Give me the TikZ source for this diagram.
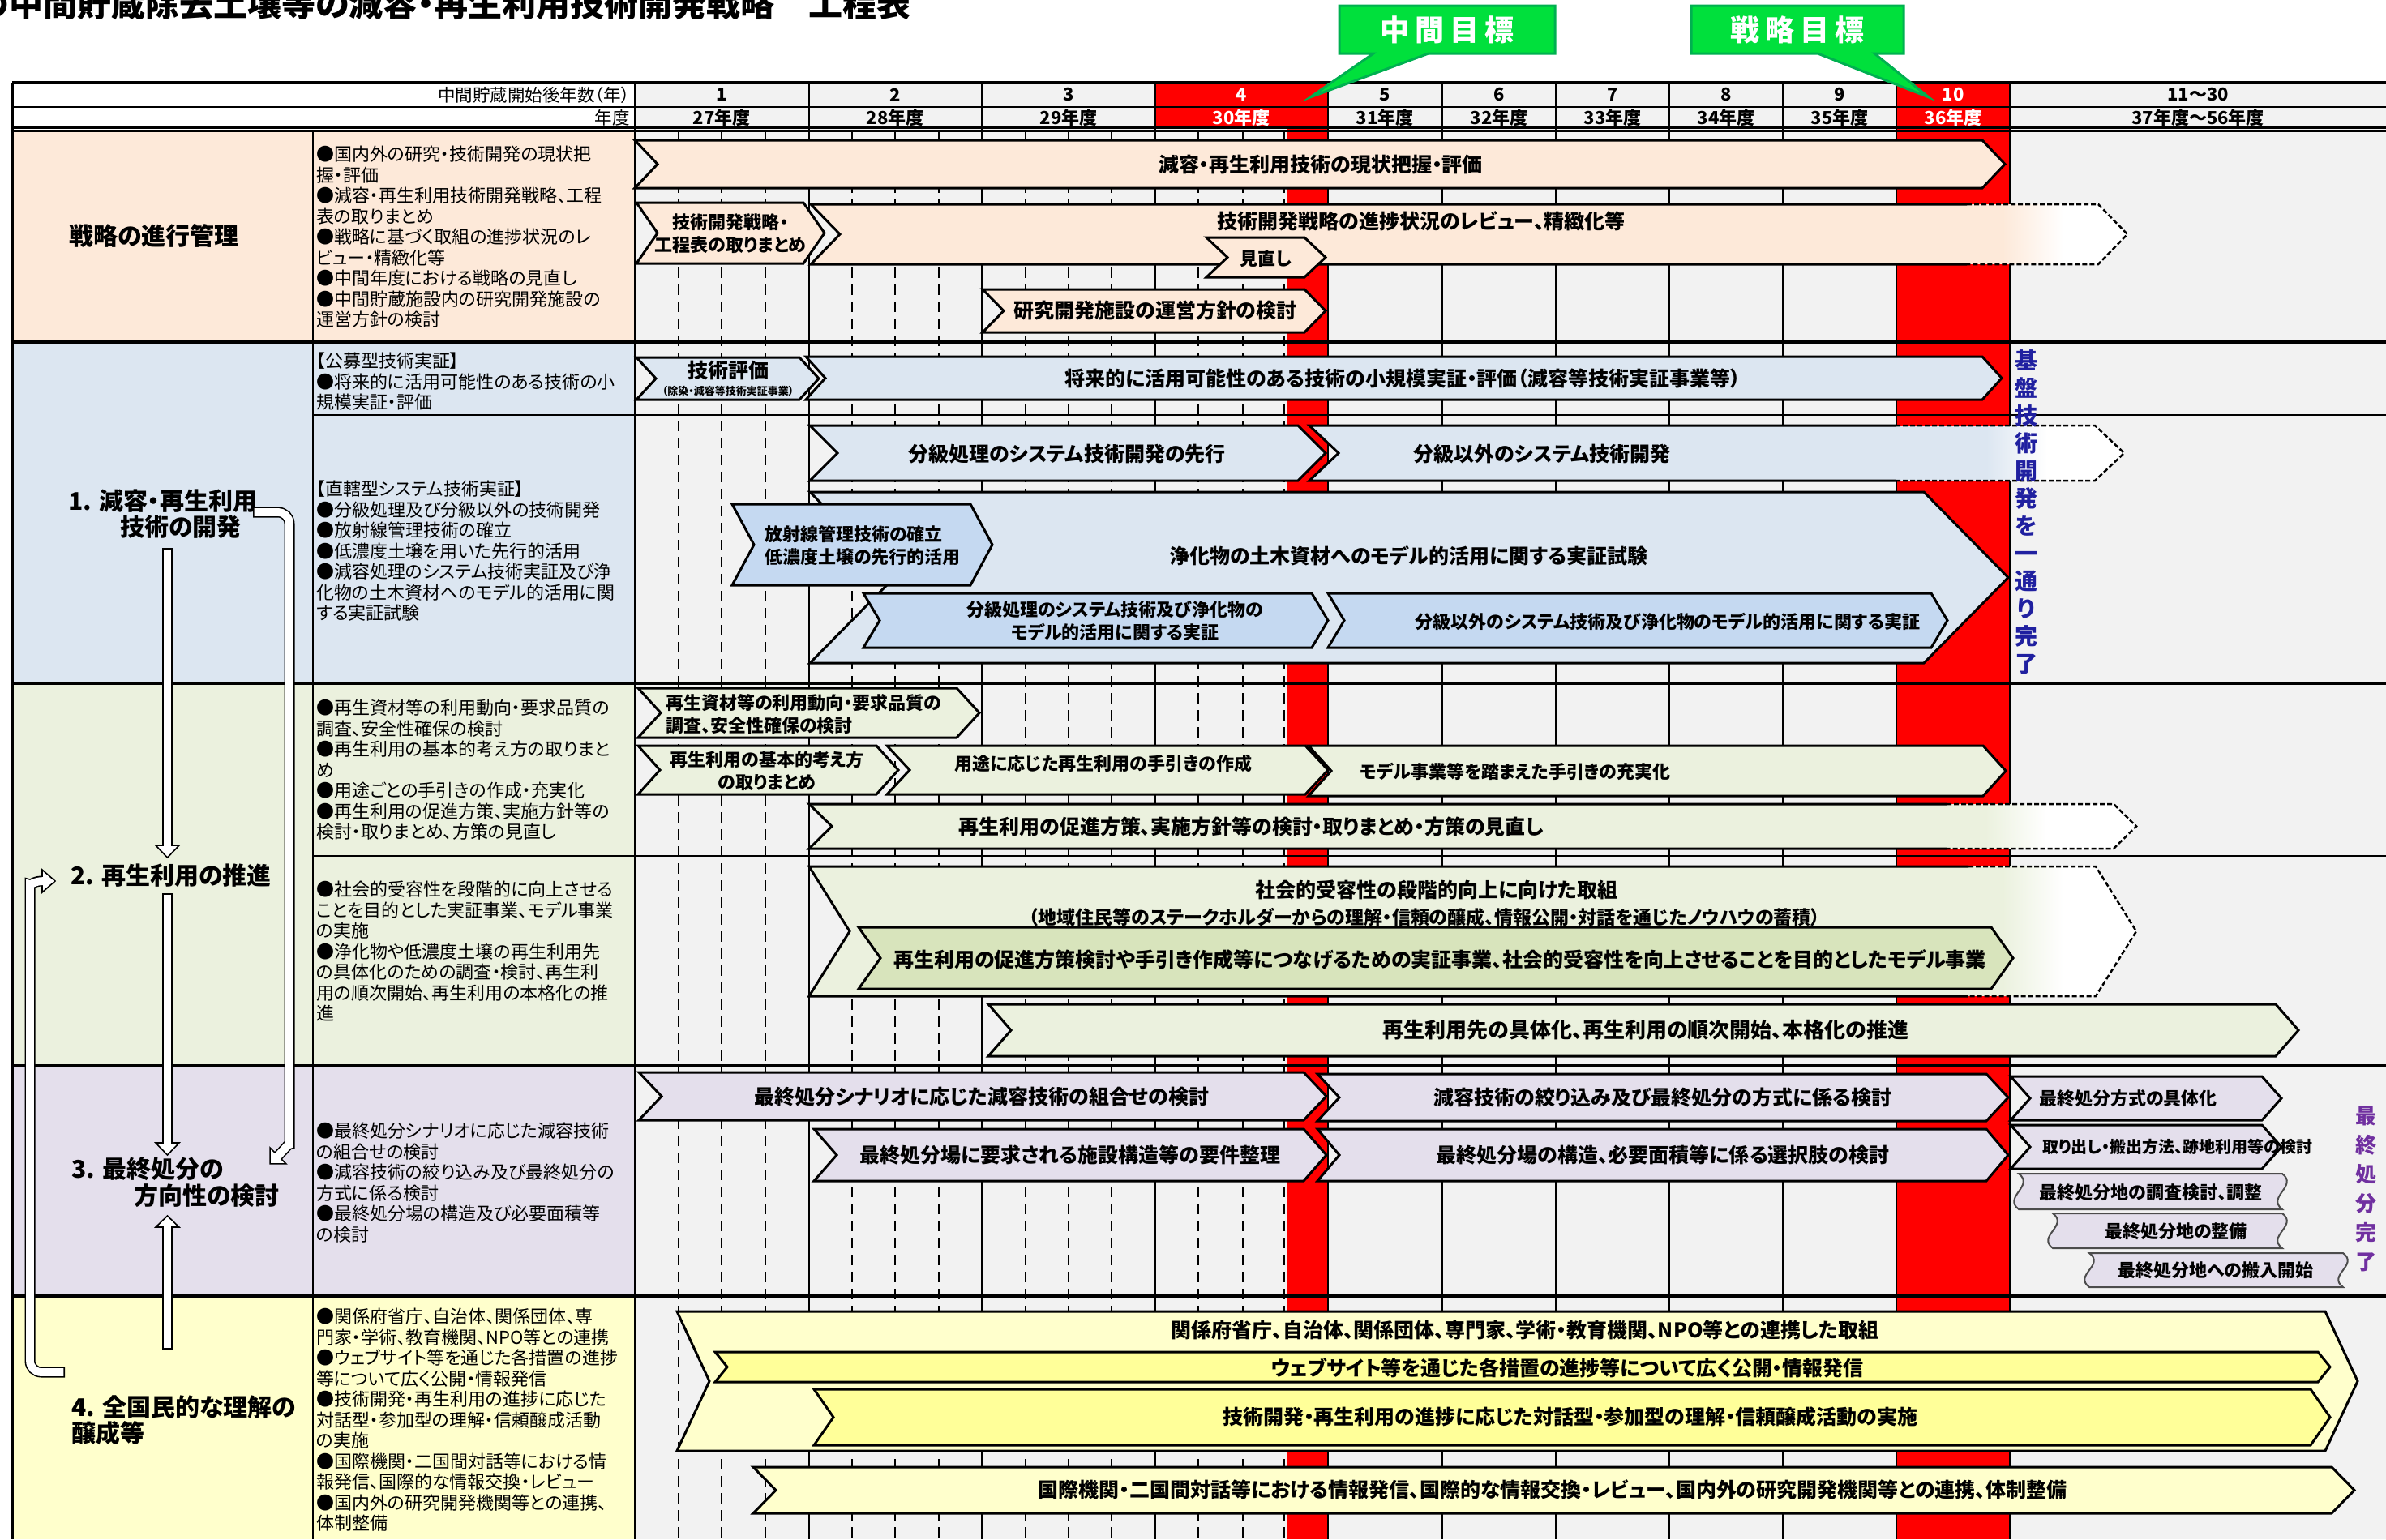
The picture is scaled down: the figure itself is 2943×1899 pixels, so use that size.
\documentclass[tikz,border=0pt]{standalone}
\usepackage{fontspec}
\setmainfont{Noto Sans CJK JP}[RawFeature=+palt]
\usetikzlibrary{positioning}
\definecolor{peach}{HTML}{FDE9D9}
\definecolor{paleblue}{HTML}{DCE6F1}
\definecolor{midblue}{HTML}{C5D9F1}
\definecolor{palegreen}{HTML}{EBF1DE}
\definecolor{midgreen}{HTML}{D8E4BC}
\definecolor{lavender}{HTML}{E4DFEC}
\definecolor{paleyellow}{HTML}{FFFFCC}
\definecolor{midyellow}{HTML}{FFFF99}
\definecolor{gridgray}{HTML}{F2F2F2}
\definecolor{goalgreen}{HTML}{00E03C}
\definecolor{goaledge}{HTML}{00B050}
\definecolor{navytext}{HTML}{2020A0}
\definecolor{purpletext}{HTML}{7030A0}
\tikzset{
  hdr/.style={font=\fontsize{21.5}{24}\selectfont, inner sep=0pt},
  yearno/.style={font=\bfseries\fontsize{22}{24}\selectfont, inner sep=0pt},
  lab/.style={font=\bfseries\fontsize{30}{34}\selectfont, inner sep=0pt},
  desc/.style={font=\fontsize{22}{25.5}\selectfont, align=left, anchor=north west, inner sep=0pt},
  bartext/.style={font=\bfseries\fontsize{25}{30}\selectfont, inner sep=0pt, align=center},
  barsmall/.style={font=\bfseries\fontsize{22}{28}\selectfont, inner sep=0pt, align=center},
  barmid/.style={font=\bfseries\fontsize{23}{28}\selectfont, inner sep=0pt},
  bartiny/.style={font=\bfseries\fontsize{20}{24}\selectfont, inner sep=0pt},
  chevbar/.style={draw=black, line width=3pt, line join=miter},
  fadeedge/.style={line width=2.5pt, dash pattern=on 6pt off 3pt},
  wave/.style={draw=black!70, line width=2pt, fill=lavender},
  rowrule/.style={line width=4.5pt},
  subrule/.style={line width=2pt},
  gridline/.style={line width=1.2pt},
  quarter/.style={line width=1.2pt, dash pattern=on 13pt off 8pt},
  flowout/.style={line width=13pt, black},
  flowin/.style={line width=9.8pt, white, shorten <=1.6pt, shorten >=-2pt},
  flowhead/.style={draw=black, fill=white, line width=1.6pt, line join=miter},
  goal/.style={fill=goalgreen, draw=goaledge, line width=3pt, line join=miter},
  goaltext/.style={font=\bfseries\fontsize{36}{40}\selectfont, text=white, inner sep=0pt},
  vtext/.style={font=\bfseries\fontsize{28}{34}\selectfont, align=center, inner sep=0pt},
}
% chevron bar: x1, x2, y1, y2, point depth, fill
\newcommand{\chev}[6]{%
  \draw[chevbar, fill=#6] (#1,#3) -- ({#2-#5},#3) -- (#2,{(#3+#4)/2}) -- ({#2-#5},#4) -- (#1,#4) -- ({#1+#5},{(#3+#4)/2}) -- cycle;}
% chevron bar fading out: x1, solid end, x2, y1, y2, depth, fill, fade start
\newcommand{\fadechev}[8]{%
  \begin{scope}
    \clip (#1,#4) -- ({#3-#6},#4) -- (#3,{(#4+#5)/2}) -- ({#3-#6},#5) -- (#1,#5) -- ({#1+#6},{(#4+#5)/2}) -- cycle;
    \fill[#7] (#1,#4) rectangle (#8,#5);
    \shade[left color=#7, right color=white] (#8,#4) rectangle ({#8+75},#5);
    \fill[white] ({#8+75},#4) rectangle (#3,#5);
  \end{scope}
  \draw[chevbar] (#2,#4) -- (#1,#4) -- ({#1+#6},{(#4+#5)/2}) -- (#1,#5) -- (#2,#5);
  \draw[fadeedge] (#2,#4) -- ({#3-#6},#4) -- (#3,{(#4+#5)/2}) -- ({#3-#6},#5) -- (#2,#5);}
% wavy box: left, right, top, bottom
\newcommand{\wavebox}[4]{%
  \draw[wave] (#1,#3) -- (#2,#3) .. controls ({#2+20},{#3+0.35*(#4-#3)}) and ({#2-20},{#3+0.65*(#4-#3)}) .. (#2,#4) -- (#1,#4) .. controls ({#1-20},{#3+0.65*(#4-#3)}) and ({#1+20},{#3+0.35*(#4-#3)}) .. (#1,#3) -- cycle;}

\begin{document}
\begin{tikzpicture}[x=1pt,y=-1pt]
\clip (0,0) rectangle (2943,1899);

% backgrounds
\fill[gridgray] (783,102) rectangle (2943,1899);
\fill[white] (15,102) rectangle (783,158);
\fill[peach] (15,162) rectangle (783,422);
\fill[paleblue] (15,422) rectangle (783,843);
\fill[palegreen] (15,843) rectangle (783,1315);
\fill[lavender] (15,1315) rectangle (783,1599);
\fill[paleyellow] (15,1599) rectangle (783,1899);

% quarters of the first years
\foreach \x in {837,890,944,1051,1104,1158,1265,1318,1371,1478,1533,1584}
  \draw[quarter] (\x,162) -- (\x,1899);

% red years
\fill[red] (1425,102) rectangle (1638,158);
\fill[red] (2339,102) rectangle (2479,158);
\fill[red] (1587,158) rectangle (1638,1899);
\fill[red] (2339,158) rectangle (2479,1899);

\foreach \x in {998,1211,1425,1638,1779,1919,2059,2199,2339,2479}
  \draw[gridline] (\x,102) -- (\x,1899);

% rules
\draw[rowrule] (15,102) -- (2943,102);
\draw[line width=2.5pt] (15,132) -- (2943,132);
\draw[line width=3pt] (15,157) -- (2943,157);
\draw[line width=2pt] (15,162) -- (2943,162);
\foreach \y in {422,843,1315,1599}
  \draw[rowrule] (15,\y) -- (2943,\y);
\draw[subrule] (386,512) -- (2943,512);
\draw[subrule] (386,1056) -- (2943,1056);
\draw[line width=3pt] (15,102) -- (15,1899);
\draw[line width=1.5pt] (386,162) -- (386,1899);
\draw[line width=2pt] (783,102) -- (783,1899);

% title
\node[font=\bfseries\fontsize{42}{48}\selectfont, anchor=base east, inner sep=0pt] (title) at (1124,20) {の中間貯蔵除去土壌等の減容・再生利用技術開発戦略　工程表};

% header
\node[hdr, anchor=east] (hnensu) at (777,117) {中間貯蔵開始後年数（年）};
\node[hdr, anchor=east] (hnendo) at (777,145) {年度};
\foreach \yx/\yn/\yf/\yc [count=\i] in {890/1/27/black, 1104/2/28/black, 1318/3/29/black, 1531/4/30/white, 1708/5/31/black, 1849/6/32/black, 1989/7/33/black, 2129/8/34/black, 2269/9/35/black, 2409/10/36/white} {
  \node[yearno, text=\yc] (yr\i) at (\yx,117) {\yn};
  \node[yearno, text=\yc] (fy\i) at (\yx,145) {\yf 年度};
}
\node[yearno] (yr11) at (2711,117) {11～30};
\node[yearno] (fy11) at (2711,145) {37年度～56年度};

% row labels
\node[lab] (labmgmt) at (190,291) {戦略の進行管理};
\node[lab, anchor=west] (lab1a) at (84,618) {1. 減容・再生利用};
\node[lab, anchor=west] (lab1b) at (148,650) {技術の開発};
\node[lab, anchor=west] (lab2) at (87,1080) {2. 再生利用の推進};
\node[lab, anchor=west] (lab3a) at (88,1442) {3. 最終処分の};
\node[lab, anchor=west] (lab3b) at (165,1475) {方向性の検討};
\node[lab, anchor=west] (lab4a) at (88,1736) {4. 全国民的な理解の};
\node[lab, anchor=west] (lab4b) at (88,1768) {醸成等};

% descriptions
\node[desc] (descmgmt) at (390,180) {●国内外の研究・技術開発の現状把\\握・評価\\●減容・再生利用技術開発戦略、工程\\表の取りまとめ\\●戦略に基づく取組の進捗状況のレ\\ビュー・精緻化等\\●中間年度における戦略の見直し\\●中間貯蔵施設内の研究開発施設の\\運営方針の検討};
\node[desc] (desckobo) at (390,435) {【公募型技術実証】\\●将来的に活用可能性のある技術の小\\規模実証・評価};
\node[desc] (descchokkatsu) at (390,593) {【直轄型システム技術実証】\\●分級処理及び分級以外の技術開発\\●放射線管理技術の確立\\●低濃度土壌を用いた先行的活用\\●減容処理のシステム技術実証及び浄\\化物の土木資材へのモデル的活用に関\\する実証試験};
\node[desc] (descsaisei) at (390,863) {●再生資材等の利用動向・要求品質の\\調査、安全性確保の検討\\●再生利用の基本的考え方の取りまと\\め\\●用途ごとの手引きの作成・充実化\\●再生利用の促進方策、実施方針等の\\検討・取りまとめ、方策の見直し};
\node[desc] (descjuyo) at (390,1087) {●社会的受容性を段階的に向上させる\\ことを目的とした実証事業、モデル事業\\の実施\\●浄化物や低濃度土壌の再生利用先\\の具体化のための調査・検討、再生利\\用の順次開始、再生利用の本格化の推\\進};
\node[desc] (descshobun) at (390,1385) {●最終処分シナリオに応じた減容技術\\の組合せの検討\\●減容技術の絞り込み及び最終処分の\\方式に係る検討\\●最終処分場の構造及び必要面積等\\の検討};
\node[desc] (descrikai) at (390,1614) {●関係府省庁、自治体、関係団体、専\\門家・学術、教育機関、NPO等との連携\\●ウェブサイト等を通じた各措置の進捗\\等について広く公開・情報発信\\●技術開発・再生利用の進捗に応じた\\対話型・参加型の理解・信頼醸成活動\\の実施\\●国際機関・二国間対話等における情\\報発信、国際的な情報交換・レビュー\\●国内外の研究開発機関等との連携、\\体制整備};

% strategy management bars
\chev{783}{2473}{173}{232}{28}{peach}
\fadechev{1000}{2426}{2624}{252}{326}{36}{peach}{2470}
\chev{785}{1017}{250}{325}{26}{peach}
\chev{1488}{1635}{293}{342}{26}{peach}
\chev{1212}{1635}{357}{410}{26}{peach}
\node[bartext] (genjo) at (1629,203) {減容・再生利用技術の現状把握・評価};
\node[barsmall] (torimatome) at (901,288) {技術開発戦略・\\工程表の取りまとめ};
\node[bartext] (review) at (1753,273) {技術開発戦略の進捗状況のレビュー、精緻化等};
\node[barsmall] (minaoshi) at (1561,319) {見直し};
\node[bartext] (unei) at (1425,383) {研究開発施設の運営方針の検討};

% 1. technology bars
\chev{785}{1010}{441}{493}{24}{paleblue}
\chev{994}{2469}{440}{493}{24}{paleblue}
\chev{999}{1635}{525}{593}{34}{paleblue}
\fadechev{1615}{2338}{2620}{525}{593}{36}{paleblue}{2450}
\chev{999}{2477}{607}{818}{104}{paleblue}
\chev{903}{1224}{622}{722}{27}{midblue}
\chev{1065}{1638}{732}{799}{20}{midblue}
\chev{1638}{2402}{732}{799}{20}{midblue}
\node[bartext] (hyoka) at (898,457) {技術評価};
\node[font=\bfseries\fontsize{13}{15}\selectfont, inner sep=0pt] (jigyo) at (898,483) {（除染・減容等技術実証事業）};
\node[bartext] (shokibo) at (1730,467) {将来的に活用可能性のある技術の小規模実証・評価（減容等技術実証事業等）};
\node[bartext] (bunkyu) at (1316,560) {分級処理のシステム技術開発の先行};
\node[bartext] (bunkyugai) at (1902,560) {分級以外のシステム技術開発};
\node[bartext] (jissho) at (1737,686) {浄化物の土木資材へのモデル的活用に関する実証試験};
\node[barsmall, align=left, anchor=west] (hoshasen) at (943,673) {放射線管理技術の確立\\低濃度土壌の先行的活用};
\node[barsmall] (bunkyujissho) at (1375,766) {分級処理のシステム技術及び浄化物の\\モデル的活用に関する実証};
\node[barsmall] (bunkyugaijissho) at (2057,767) {分級以外のシステム技術及び浄化物のモデル的活用に関する実証};
\node[vtext, text=navytext] (kiban) at (2499,632) {基\\盤\\技\\術\\開\\発\\を\\一\\通\\り\\完\\了};

% 2. recycling bars
\chev{787}{1208}{849}{910}{28}{palegreen}
\chev{787}{1108}{920}{980}{27}{palegreen}
\chev{1094}{1638}{920}{980}{28}{palegreen}
\chev{1614}{2474}{920}{982}{28}{palegreen}
\fadechev{998}{2401}{2635}{992}{1047}{28}{palegreen}{2449}
\fadechev{998}{2428}{2635}{1069}{1229}{50}{palegreen}{2470}
\chev{1059}{2483}{1144}{1220}{27}{midgreen}
\chev{1219}{2835}{1239}{1303}{28}{palegreen}
\node[barsmall, align=left, anchor=west] (chosa) at (821,881) {再生資材等の利用動向・要求品質の\\調査、安全性確保の検討};
\node[barsmall] (kangaekata) at (946,951) {再生利用の基本的考え方\\の取りまとめ};
\node[barsmall] (tebiki) at (1361,942) {用途に応じた再生利用の手引きの作成};
\node[barsmall] (juujitsu) at (1869,952) {モデル事業等を踏まえた手引きの充実化};
\node[bartext] (sokushin) at (1543,1020) {再生利用の促進方策、実施方針等の検討・取りまとめ・方策の見直し};
\node[bartext] (juyo) at (1772,1098) {社会的受容性の段階的向上に向けた取組};
\node[barmid] (juyosub) at (1757,1132) {（地域住民等のステークホルダーからの理解・信頼の醸成、情報公開・対話を通じたノウハウの蓄積）};
\node[bartext] (modeljigyo) at (1776,1184) {再生利用の促進方策検討や手引き作成等につなげるための実証事業、社会的受容性を向上させることを目的としたモデル事業};
\node[bartext, font=\bfseries\fontsize{26}{30}\selectfont] (gutaika) at (2030,1271) {再生利用先の具体化、再生利用の順次開始、本格化の推進};

% 3. final disposal bars
\chev{788}{1636}{1323}{1382}{28}{lavender}
\chev{1625}{2477}{1325}{1383}{27}{lavender}
\chev{2480}{2814}{1328}{1382}{24}{lavender}
\chev{1004}{1636}{1393}{1457}{28}{lavender}
\chev{1625}{2477}{1393}{1457}{27}{lavender}
\chev{2480}{2814}{1388}{1442}{24}{lavender}
\wavebox{2490}{2815}{1448}{1492}
\wavebox{2532}{2815}{1497}{1540}
\wavebox{2577}{2890}{1546}{1588}
\node[bartext] (kumiawase) at (1211,1353) {最終処分シナリオに応じた減容技術の組合せの検討};
\node[bartext] (hoshiki) at (2051,1354) {減容技術の絞り込み及び最終処分の方式に係る検討};
\node[barsmall, anchor=west] (hoshikigutai) at (2515,1355) {最終処分方式の具体化};
\node[bartext] (yoken) at (1320,1425) {最終処分場に要求される施設構造等の要件整理};
\node[bartext] (kozo) at (2051,1425) {最終処分場の構造、必要面積等に係る選択肢の検討};
\node[bartiny, anchor=west] (toridashi) at (2519,1415) {取り出し・搬出方法、跡地利用等の検討};
\node[barsmall] (chosakento) at (2653,1471) {最終処分地の調査検討、調整};
\node[barsmall] (seibi) at (2684,1519) {最終処分地の整備};
\node[barsmall] (hannyu) at (2733,1567) {最終処分地への搬入開始};
\node[vtext, text=purpletext, font=\bfseries\fontsize{26}{36}\selectfont] (kanryo) at (2918,1467) {最\\終\\処\\分\\完\\了};

% 4. understanding bars
\chev{835}{2908}{1618}{1790}{40}{paleyellow}
\chev{882}{2874}{1668}{1705}{15}{midyellow}
\chev{1004}{2874}{1714}{1783}{24}{midyellow}
\chev{929}{2904}{1810}{1867}{28}{paleyellow}
\node[bartext] (renkei) at (1881,1641) {関係府省庁、自治体、関係団体、専門家、学術・教育機関、NPO等との連携した取組};
\node[bartext] (web) at (1933,1688) {ウェブサイト等を通じた各措置の進捗等について広く公開・情報発信};
\node[bartext] (taiwa) at (1937,1748) {技術開発・再生利用の進捗に応じた対話型・参加型の理解・信頼醸成活動の実施};
\node[bartext] (kokusai) at (1915,1838) {国際機関・二国間対話等における情報発信、国際的な情報交換・レビュー、国内外の研究開発機関等との連携、体制整備};

% flow arrows between the themes
\coordinate (a1s) at (206.5,676);
\coordinate (a1e) at (206.5,1043);
\coordinate (a2s) at (206.5,1102);
\coordinate (a2e) at (206.5,1410);
\coordinate (a3s) at (206.5,1665);
\coordinate (a3e) at (206.5,1514);
\coordinate (a4s) at (312,632);
\coordinate (a4e) at (343,1426);
\coordinate (a5s) at (80,1693);
\coordinate (a5e) at (52,1087);
\draw[flowout] (a1s) -- (a1e);
\draw[flowhead] ([xshift=-14.5pt]a1e) -- ([xshift=14.5pt]a1e) -- ([yshift=-15pt]a1e) -- cycle;
\draw[flowin] (a1s) -- (a1e);
\draw[flowout] (a2s) -- (a2e);
\draw[flowhead] ([xshift=-14.5pt]a2e) -- ([xshift=14.5pt]a2e) -- ([yshift=-15pt]a2e) -- cycle;
\draw[flowin] (a2s) -- (a2e);
\draw[flowout] (a3s) -- (a3e);
\draw[flowhead] ([xshift=-14.5pt]a3e) -- ([xshift=14.5pt]a3e) -- ([yshift=14pt]a3e) -- cycle;
\draw[flowin] (a3s) -- (a3e);
\draw[flowout, rounded corners=14pt] (a4s) -- (357,632) -- (357,1398) .. controls (357,1410) and (350,1419) .. (a4e);
\draw[flowhead] ([shift={(9.9pt,-9.9pt)}]a4e) -- ([shift={(-9.9pt,9.9pt)}]a4e) -- ([shift={(-9.9pt,-9.9pt)}]a4e) -- cycle;
\draw[flowin, rounded corners=14pt] (a4s) -- (357,632) -- (357,1398) .. controls (357,1410) and (350,1419) .. (a4e);
\draw[flowout, rounded corners=14pt] (a5s) -- (37,1693) -- (37,1105) .. controls (37,1093) and (41,1087) .. (a5e);
\draw[flowhead] ([yshift=14pt]a5e) -- ([xshift=16pt]a5e) -- ([yshift=-14pt]a5e) -- cycle;
\draw[flowin, rounded corners=14pt] (a5s) -- (37,1693) -- (37,1105) .. controls (37,1093) and (41,1087) .. (a5e);

% goal callouts
\draw[goal] (1652,7) -- (1918,7) -- (1918,66) -- (1762,66) -- (1616,120) -- (1694,66) -- (1652,66) -- cycle;
\node[goaltext] (chukan) at (1785,37) {中\hspace{7pt}間\hspace{7pt}目\hspace{7pt}標};
\draw[goal] (2086,7) -- (2348,7) -- (2348,66) -- (2312,66) -- (2379,120) -- (2242,66) -- (2086,66) -- cycle;
\node[goaltext] (senryaku) at (2217,37) {戦\hspace{7pt}略\hspace{7pt}目\hspace{7pt}標};
\end{tikzpicture}
\end{document}
